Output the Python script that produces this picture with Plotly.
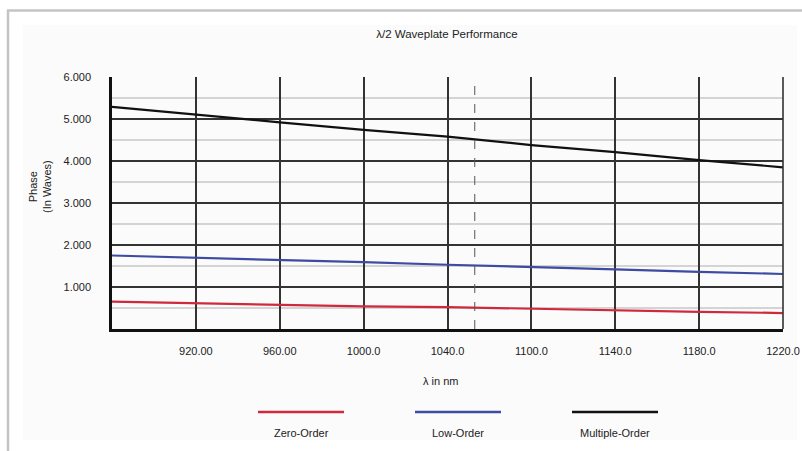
import plotly.graph_objects as go

# ---- data ----
wavelength_nm = [880, 920, 960, 1000, 1040, 1080, 1120, 1160, 1200]
zero_order = [0.65, 0.61, 0.58, 0.54, 0.52, 0.48, 0.44, 0.41, 0.38]
low_order = [1.75, 1.70, 1.64, 1.59, 1.53, 1.48, 1.42, 1.36, 1.31]
multiple_order = [5.29, 5.10, 4.92, 4.74, 4.58, 4.38, 4.21, 4.02, 3.85]

x_tick_values = [920, 960, 1000, 1040, 1080, 1120, 1160, 1200]
x_tick_labels = ["920.00", "960.00", "1000.0", "1040.0", "1100.0", "1140.0", "1180.0", "1220.0"]
y_tick_values = [1, 2, 3, 4, 5, 6]
marker_wavelength = 1053

series_names = ["Zero-Order", "Low-Order", "Multiple-Order"]
series_values = [zero_order, low_order, multiple_order]
series_colors = ["#cf2a3c", "#3d4ba2", "#111111"]

FONT = "Liberation Sans, Arial, sans-serif"

# plot area in pixels (for converting decoration positions to paper coords)
L, R, T, B = 112, 783, 77, 329
W, H = 802, 451


def px(x):
    return (x - L) / (R - L)


def py(y):
    return (B - y) / (B - T)


fig = go.Figure()
for name, vals, col in zip(series_names, series_values, series_colors):
    fig.add_trace(go.Scatter(x=wavelength_nm, y=vals, mode="lines", name=name,
                             line=dict(color=col, width=2.2), showlegend=False,
                             hoverinfo="skip"))

shapes = [
    # inner light panel
    dict(type="rect", xref="paper", yref="paper", x0=px(23), x1=px(797), y0=py(440), y1=py(25),
         fillcolor="#fbfbfb", line=dict(width=0), layer="below"),
    # outer gray frame (left and top)
    dict(type="line", xref="paper", yref="paper", x0=px(8), x1=px(8), y0=py(451), y1=py(10),
         line=dict(color="#c4c4c4", width=2.5), layer="below"),
    dict(type="line", xref="paper", yref="paper", x0=px(7), x1=px(802), y0=py(10.5), y1=py(10.5),
         line=dict(color="#c4c4c4", width=2.5), layer="below"),
    # dashed marker line
    dict(type="line", xref="x", yref="paper", x0=marker_wavelength, x1=marker_wavelength, y0=0, y1=1,
         line=dict(color="#555555", width=1, dash="dash")),
    # right border
    dict(type="line", xref="paper", yref="paper", x0=1, x1=1, y0=0, y1=1,
         line=dict(color="#333333", width=1.6)),
]

annotations = [
    dict(text="Phase<br>(In Waves)", xref="paper", yref="paper", x=px(40), y=py(187),
         xanchor="center", yanchor="middle",
         textangle=-90, showarrow=False, font=dict(size=11, color="#222", family=FONT)),
    dict(text="λ in nm", xref="paper", yref="paper", x=px(440), y=py(381),
         xanchor="center", yanchor="middle",
         showarrow=False, font=dict(size=11, color="#222", family=FONT)),
]

legend_line_x = [(258, 344), (415, 501), (572, 658)]
for (x0, x1), name, col in zip(legend_line_x, series_names, series_colors):
    shapes.append(dict(type="line", xref="paper", yref="paper", x0=px(x0), x1=px(x1),
                       y0=py(412), y1=py(412), line=dict(color=col, width=2.5)))
    annotations.append(dict(text=name, xref="paper", yref="paper", x=px((x0 + x1) / 2), y=py(433),
                            xanchor="center", yanchor="middle",
                            showarrow=False, font=dict(size=11, color="#222", family=FONT)))

fig.update_layout(
    width=W, height=H,
    margin=dict(l=L, r=W - R, t=T, b=H - B, autoexpand=False),
    paper_bgcolor="white",
    plot_bgcolor="rgba(0,0,0,0)",
    font=dict(family=FONT, size=11, color="#222"),
    title=dict(text="λ/2 Waveplate Performance", x=px(447), xanchor="center", xref="paper",
               y=1 - 34 / H, yanchor="middle", font=dict(size=11.5, color="#222", family=FONT)),
    shapes=shapes,
    annotations=annotations,
    showlegend=False,
    hovermode=False,
)

fig.update_xaxes(
    range=[wavelength_nm[0], wavelength_nm[-1]],
    automargin=False,
    tickmode="array", tickvals=x_tick_values, ticktext=x_tick_labels,
    showgrid=True, gridcolor="#333333", gridwidth=1.6,
    showline=True, linecolor="#111111", linewidth=2.5,
    ticks="outside", ticklen=10, tickcolor="rgba(0,0,0,0)",
    zeroline=False,
    tickfont=dict(size=11, color="#222", family=FONT),
)
fig.update_yaxes(
    range=[0, 6],
    automargin=False,
    tickmode="array", tickvals=y_tick_values, tickformat=".3f",
    showgrid=True, gridcolor="#333333", gridwidth=1.6,
    minor=dict(dtick=0.5, showgrid=True, gridcolor="#d4d4d4", gridwidth=1.6),
    showline=True, linecolor="#111111", linewidth=2.5,
    ticks="outside", ticklen=16, tickcolor="rgba(0,0,0,0)",
    zeroline=False,
    tickfont=dict(size=11, color="#222", family=FONT),
)

fig.write_html("out.html", config={"displayModeBar": False},
               post_script="document.body.style.margin='0';")
